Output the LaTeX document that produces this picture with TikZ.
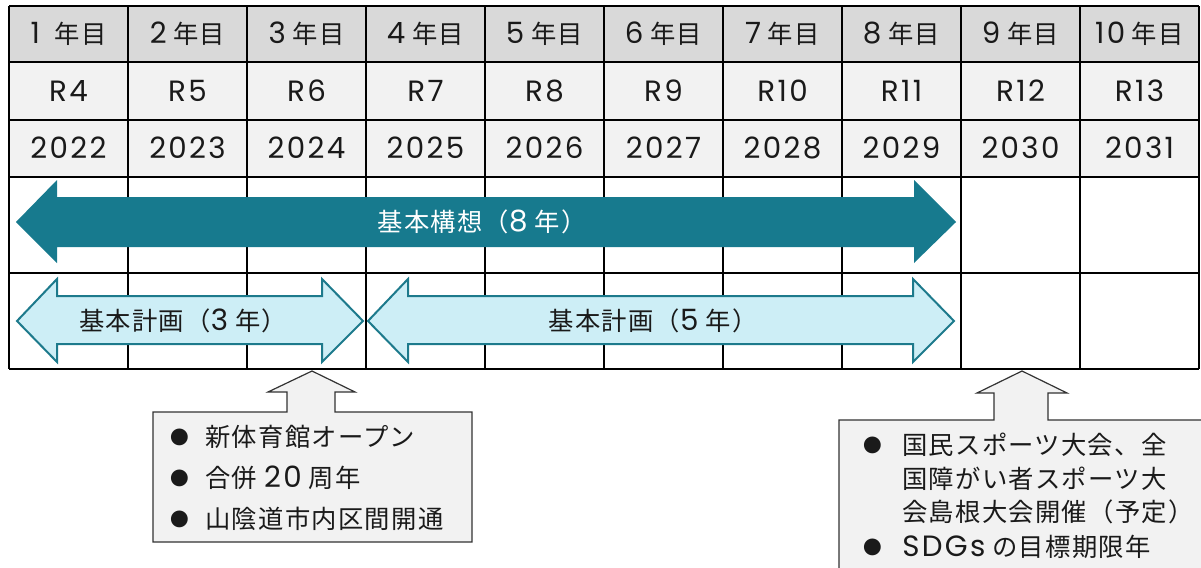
\documentclass[tikz,border=0pt]{standalone}
\usepackage{fontspec}
\setmainfont{Noto Sans CJK JP}[LetterSpace=5]
\newfontfamily\latfont{Poppins}[LetterSpace=8]
\newcommand\nm[1]{{\latfont\fontsize{22}{24}\selectfont #1}}
\definecolor{hdrgrey}{HTML}{D9D9D9}
\definecolor{litegrey}{HTML}{F2F2F2}
\definecolor{darkteal}{HTML}{177A8E}
\definecolor{paleteal}{HTML}{CDEEF6}
\definecolor{rimteal}{HTML}{1D7A8C}
\definecolor{inkc}{HTML}{1A1A1A}
\tikzset{
  gridline/.style={line width=1.2pt, black},
  cell/.style={text=inkc, font=\fontsize{19}{23}\selectfont, inner sep=0pt},
  bigarrow/.style={fill=darkteal},
  smallarrow/.style={fill=paleteal, draw=rimteal, line width=1.5pt, line join=miter},
  callout/.style={fill=litegrey, draw=black!80, line width=0.9pt},
  ctext/.style={text=inkc, font=\fontsize{19}{23}\selectfont, anchor=west, inner sep=0pt},
  bullet/.style={text=inkc, font=\fontsize{14}{16}\selectfont, inner sep=0pt},
}
\begin{document}
\begin{tikzpicture}[x=0.75pt,y=-0.75pt]
\useasboundingbox (0,0) rectangle (1201,567);
% table fills
\fill[hdrgrey] (9,6) rectangle (1199,62);
\fill[litegrey] (9,62) rectangle (1199,177);
% grid
\foreach \x in {9,128,...,1199} \draw[gridline] (\x,6) -- (\x,369);
\foreach \y in {6,62,120,177,273,369} \draw[gridline] (9,\y) -- (1199,\y);
% cell texts
\foreach \i in {0,...,9}{
  \pgfmathsetmacro\cx{68.5+119*\i}
  \pgfmathtruncatemacro\n{\i+1}
  \pgfmathtruncatemacro\r{\i+4}
  \pgfmathtruncatemacro\yr{\i+2022}
  \node[cell] (yr\n) at (\cx,34) {\nm{\n}\hspace{\ifnum\n=1 11pt\else 5pt\fi}年目};
  \node[cell] (rw\n) at (\cx,91) {\nm{R\r}};
  \node[cell] (ad\n) at (\cx,148) {\nm{\yr}};
}
% big arrow
\fill[bigarrow] (16,222) -- (57,180) -- (57,197) -- (914,197) -- (914,180) -- (956,222)
  -- (914,263) -- (914,247) -- (57,247) -- (57,263) -- cycle;
\node[cell, text=white] (kihonkoso) at (482,222) {基本構想（\nm{8}~年）};
% small arrows
\draw[smallarrow] (17,321) -- (57,279) -- (57,296) -- (322,296) -- (322,279) -- (363,321)
  -- (322,362) -- (322,344) -- (57,344) -- (57,362) -- cycle;
\node[cell] (keikaku1) at (183,321) {基本計画（\nm{3}~年）};
\draw[smallarrow] (368,321) -- (408,279) -- (408,296) -- (913,296) -- (913,279) -- (954,321)
  -- (913,362) -- (913,344) -- (408,344) -- (408,362) -- cycle;
\node[cell] (keikaku2) at (653,321) {基本計画（\nm{5}~年）};
% callout 1
\draw[callout] (153,412) -- (287,412) -- (287,392) -- (268,392) -- (312,371) -- (355,392)
  -- (335,392) -- (335,412) -- (472,412) -- (472,542) -- (153,542) -- cycle;
\node[bullet] (b11) at (180,437) {●};
\node[ctext] (c11) at (205,437) {新体育館オープン};
\node[bullet] (b12) at (180,478) {●};
\node[ctext] (c12) at (205,478) {合併 \nm{20} 周年};
\node[bullet] (b13) at (180,519) {●};
\node[ctext] (c13) at (205,519) {山陰道市内区間開通};
% callout 2
\begin{scope}
\clip (0,0) rectangle (1201,567);
\draw[callout] (839,420) -- (994,420) -- (994,393) -- (977,393) -- (1022,371) -- (1067,393)
  -- (1048,393) -- (1048,420) -- (1215,420) -- (1215,590) -- (839,590) -- cycle;
\end{scope}
\node[bullet] (b21) at (873,445) {●};
\node[ctext] (c21) at (902,445) {国民スポーツ大会、全};
\node[ctext] (c22) at (902,479) {国障がい者スポーツ大};
\node[ctext] (c23) at (902,512) {会島根大会開催（予定）};
\node[bullet] (b22) at (873,547) {●};
\node[ctext] (c24) at (902,547) {\nm{SDGs} の目標期限年};
\end{tikzpicture}
\end{document}
